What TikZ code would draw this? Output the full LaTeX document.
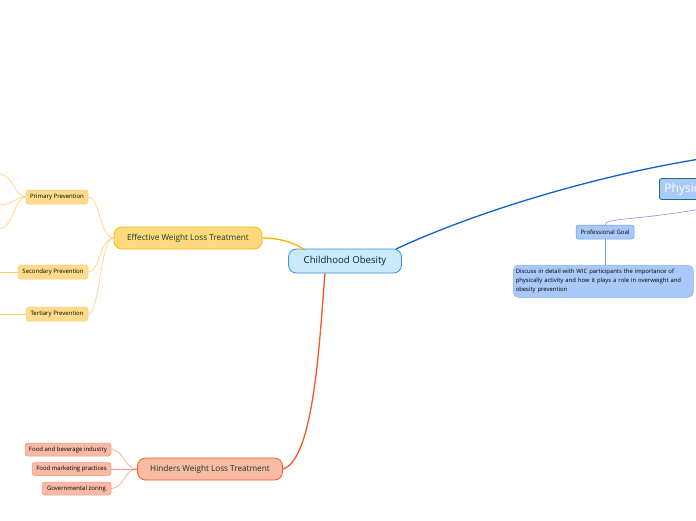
\documentclass[tikz,border=0pt]{standalone}
\usepackage{fontspec}
\setmainfont{Open Sans}
\usetikzlibrary{positioning}
\definecolor{obesityfill}{RGB}{200,234,251}
\definecolor{obesityline}{RGB}{61,143,214}
\definecolor{navytext}{RGB}{16,30,60}
\definecolor{greentext}{RGB}{18,60,32}
\definecolor{amberfill}{RGB}{255,217,128}
\definecolor{amberline}{RGB}{245,180,0}
\definecolor{ambersoft}{RGB}{255,219,140}
\definecolor{ambersoftline}{RGB}{255,206,112}
\definecolor{salmonfill}{RGB}{249,187,164}
\definecolor{salmonline}{RGB}{240,90,40}
\definecolor{salmonsoft}{RGB}{248,185,165}
\definecolor{salmonsoftline}{RGB}{244,157,128}
\definecolor{skyfill}{RGB}{169,201,249}
\definecolor{skyline}{RGB}{110,158,230}
\definecolor{tealline}{RGB}{34,112,107}
\definecolor{royalblue}{RGB}{16,96,208}

\begin{document}
\begin{tikzpicture}[x=1pt,y=-1pt,
      central/.style={rounded corners=8pt,draw=obesityline,fill=obesityfill,
                      text=navytext,line width=0.8pt,minimum width=113pt,
                      minimum height=24pt,font=\fontsize{9.6}{11}\selectfont},
      branch/.style={rounded corners=8pt,line width=0.8pt,text=greentext,
                     minimum height=22pt,font=\fontsize{8.2}{10}\selectfont},
      leaf/.style={rounded corners=2.5pt,line width=0.5pt,minimum height=14pt,
                   inner xsep=2pt,inner ysep=1pt,text=black,
                   font=\fontsize{6}{7}\selectfont},
      amberleaf/.style={leaf,fill=ambersoft,draw=ambersoftline},
      salmonleaf/.style={leaf,fill=salmonsoft,draw=salmonsoftline},
      skyleaf/.style={leaf,fill=skyfill,draw=skyline},
      thickline/.style={line width=1.3pt},
      thinline/.style={line width=0.6pt}]

    \clip (0,0) rectangle (696,520);

    \node[central] (obesity) at (345,261) {Childhood Obesity};

    \node[branch,fill=amberfill,draw=amberline,minimum width=148pt] (effective) at (188,238)
      {Effective Weight Loss Treatment};
    \node[amberleaf,minimum width=62pt] (primary) at (57,197) {Primary Prevention};
    \node[amberleaf,minimum width=70pt] (secondary) at (53,272) {Secondary Prevention};
    \node[amberleaf,minimum width=62pt] (tertiary) at (57,314) {Tertiary Prevention};

    \node[branch,fill=salmonfill,draw=salmonline,minimum width=145pt] (hinders) at (210,469)
      {Hinders Weight Loss Treatment};
    \node[salmonleaf,minimum width=86pt,minimum height=13pt] (industry) at (68,449.5)
      {Food and beverage industry};
    \node[salmonleaf,minimum width=79pt,minimum height=13pt] (marketing) at (71.5,469)
      {Food marketing practices};
    \node[salmonleaf,minimum width=69pt,minimum height=13pt] (zoring) at (76.5,488.5)
      {Governmental zoring};

    \node[rounded corners=2.5pt,draw=tealline,fill=skyfill,text=white,line width=0.9pt,
          anchor=west,minimum height=21pt,inner xsep=5pt,
          font=\fontsize{12}{14}\selectfont] (physical) at (659,189) {Physical Activity};
    \node[skyleaf,minimum width=58pt] (goal) at (605,232) {Professional Goal};
    \node[skyleaf,draw=skyline!80,rounded corners=5pt,anchor=north west,align=left,
          text width=175pt,inner xsep=2.5pt,inner ysep=3pt,minimum height=32pt,
          font=\fontsize{5.9}{9}\selectfont] (discuss) at (513,265)
      {Discuss in detail with WIC participants the importance of\\
       physically activity and how it plays a role in overweight and\\
       obesity prevention};

    \coordinate (offright) at (700,159);
    \coordinate (offphys) at (700,209);
    \coordinate (offa) at (-2,174);
    \coordinate (offb) at (-2,205);
    \coordinate (offc) at (-2,229);
    \coordinate (offd) at (-2,272);
    \coordinate (offe) at (-2,314);

    \draw[thickline,royalblue] (396,249) .. controls (480,210) and (600,175) .. (offright);
    \draw[thickline,amberline] (305,250) .. controls (290,240) and (275,238) .. (effective.east);
    \draw[thickline,salmonline] (325,273) .. controls (320,330) and (315,460) .. (hinders.east);

    \draw[thinline,ambersoftline] (effective.west) .. controls (100,238) and (100,197) .. (primary.east);
    \draw[thinline,ambersoftline] (effective.west) .. controls (100,238) and (100,272) .. (secondary.east);
    \draw[thinline,ambersoftline] (effective.west) .. controls (100,238) and (100,314) .. (tertiary.east);
    \draw[thinline,ambersoftline] (primary.west) .. controls (14,197) and (14,174) .. (offa);
    \draw[thinline,ambersoftline] (primary.west) .. controls (14,197) and (14,205) .. (offb);
    \draw[thinline,ambersoftline] (primary.west) .. controls (14,197) and (14,229) .. (offc);
    \draw[thinline,ambersoftline] (secondary.west) -- (offd);
    \draw[thinline,ambersoftline] (tertiary.west) -- (offe);

    \draw[thinline,salmonsoftline] (hinders.west) .. controls (124,469) and (124,449.5) .. (industry.east);
    \draw[thinline,salmonsoftline] (hinders.west) -- (marketing.east);
    \draw[thinline,salmonsoftline] (hinders.west) .. controls (124,469) and (124,488.5) .. (zoring.east);

    \draw[thinline,skyline] (goal.north) .. controls (605,218) and (640,220) .. (offphys);
    \draw[thinline,skyline] (goal.south) -- (goal.south |- discuss.north);
  \end{tikzpicture}
\end{document}
